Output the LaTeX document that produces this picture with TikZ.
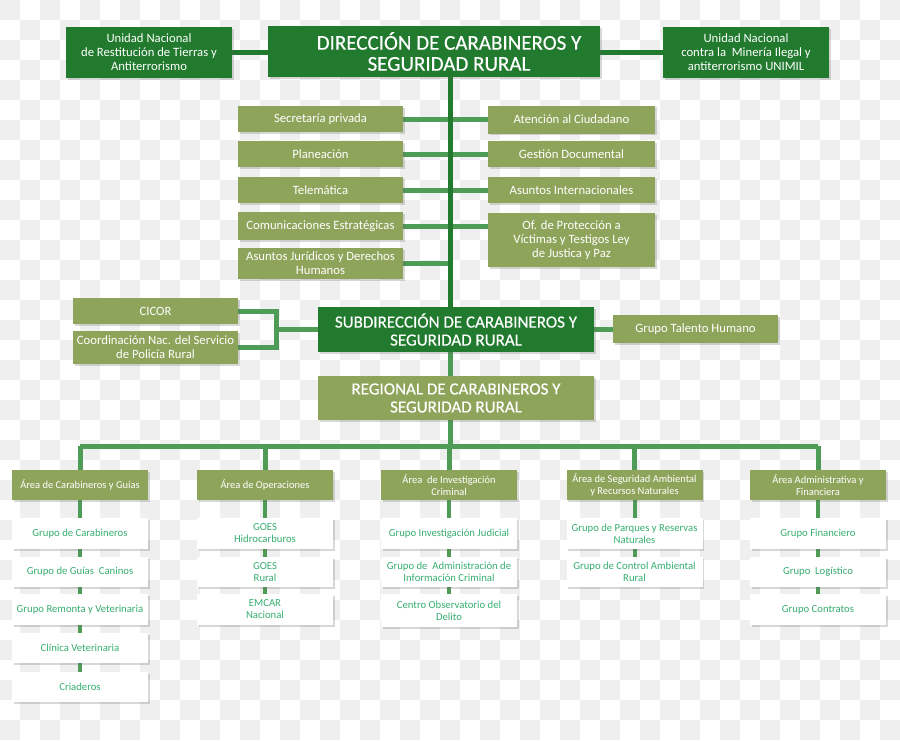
\documentclass[tikz,border=0pt]{standalone}
\usepackage{fontspec}
\setmainfont{Carlito}
\newfontfamily\headfont[FakeBold=0.4]{Carlito}
\usetikzlibrary{shadows}
\definecolor{dkg}{HTML}{217A2E}
\definecolor{olv}{HTML}{8FA45B}
\definecolor{cn}{HTML}{4E9C55}
\definecolor{tg}{HTML}{36AE70}
\definecolor{chk}{HTML}{EFEFEF}
\pgfdeclarelayer{bgg}
\pgfdeclarelayer{bg}
\pgfsetlayers{bgg,bg,main}
\tikzset{
  shd/.style={drop shadow={shadow xshift=1.5pt, shadow yshift=-1.5pt, opacity=0.25, fill=black!60}},
  dbox/.style={fill=dkg, text=white, inner sep=0pt, align=center, shd,
    font=\fontsize{12.7}{14}\selectfont},
  tbox/.style={fill=dkg, text=white, inner sep=0pt, align=center, shd,
    font=\headfont\fontsize{21}{21}\selectfont},
  obox/.style={fill=olv, text=white, inner sep=0pt, align=center, shd,
    font=\fontsize{12.7}{14}\selectfont},
  sbox/.style={fill=olv, text=white, inner sep=0pt, align=center, shd,
    font=\headfont\fontsize{17}{18}\selectfont},
  abox/.style={fill=olv, text=white, inner sep=0pt, align=center, shd,
    minimum width=136pt, minimum height=30pt,
    font=\fontsize{10.5}{12}\selectfont},
  wbox/.style={fill=white, text=tg, inner sep=0pt, align=center, shd,
    minimum width=136pt, font=\fontsize{10.7}{12}\selectfont},
  trunk/.style={draw=dkg, line width=5pt},
  lc/.style={draw=cn, line width=5pt},
  lcs/.style={draw=cn, line width=4pt},
}
\begin{document}
\begin{tikzpicture}[x=1pt,y=-1pt]
\useasboundingbox (0,0) rectangle (900,740);
% checkerboard background
\begin{pgfonlayer}{bgg}
\fill[white] (0,0) rectangle (900,740);
\foreach \i in {0,...,44}{
  \foreach \j in {0,...,36}{
    \pgfmathtruncatemacro{\pp}{mod(\i+\j,2)}
    \ifnum\pp=0
      \fill[chk] (\i*20,\j*20) rectangle ++(20,20);
    \fi
  }
}
\end{pgfonlayer}

% top row
\node[tbox, minimum width=332pt, minimum height=51pt] (dir) at (434,51.5)
  {\hspace*{30pt}DIRECCIÓN DE CARABINEROS Y\\\hspace*{30pt}SEGURIDAD RURAL};
\node[dbox, minimum width=166pt, minimum height=51pt] (ul) at (149,52.5)
  {Unidad Nacional\\de Restitución de Tierras y\\Antiterrorismo};
\node[dbox, minimum width=166pt, minimum height=51pt] (ur) at (746,52.5)
  {Unidad Nacional\\contra la~ Minería Ilegal y\\antiterrorismo UNIMIL};

% staff offices
\node[obox, minimum width=165pt, minimum height=26pt] (sec) at (320.5,119) {Secretaría privada};
\node[obox, minimum width=165pt, minimum height=26pt] (pla) at (320.5,154) {Planeación};
\node[obox, minimum width=165pt, minimum height=26pt] (tel) at (320.5,190) {Telemática};
\node[obox, minimum width=165pt, minimum height=28pt] (com) at (320.5,226) {Comunicaciones Estratégicas};
\node[obox, minimum width=165pt, minimum height=31pt] (jur) at (320.5,263.5) {Asuntos Jurídicos y Derechos\\Humanos};
\node[obox, minimum width=167pt, minimum height=28pt] (ate) at (571.5,119.5) {Atención al Ciudadano};
\node[obox, minimum width=167pt, minimum height=26pt] (ges) at (571.5,154) {Gestión Documental};
\node[obox, minimum width=167pt, minimum height=26pt] (int) at (571.5,190) {Asuntos Internacionales};
\node[obox, minimum width=167pt, minimum height=54pt] (pro) at (571.5,240) {Of. de Protección a\\Víctimas y Testigos Ley\\de Justica y Paz};

% subdirection level
\node[tbox, font=\headfont\fontsize{17}{18}\selectfont, minimum width=276pt, minimum height=45pt] (sub) at (456,329.5)
  {SUBDIRECCIÓN DE CARABINEROS Y\\SEGURIDAD RURAL};
\node[obox, minimum width=165pt, minimum height=26pt] (cic) at (155.5,311) {CICOR};
\node[obox, minimum width=165pt, minimum height=33pt] (coo) at (155.5,347.5) {Coordinación Nac. del Servicio\\de Policía Rural};
\node[obox, minimum width=165pt, minimum height=28pt] (tal) at (695.5,329) {Grupo Talento Humano};
\node[sbox, minimum width=276pt, minimum height=44pt] (reg) at (456,398)
  {REGIONAL DE CARABINEROS Y\\SEGURIDAD RURAL};

% areas
\node[abox] (a1) at (80,485) {Área de Carabineros y Guías};
\node[abox] (a2) at (265,485) {Área de Operaciones};
\node[abox] (a3) at (449,485) {Área~ de Investigación\\Criminal};
\node[abox] (a4) at (634.5,485) {Área de Seguridad Ambiental\\y Recursos Naturales};
\node[abox] (a5) at (818,485) {Área Administrativa y\\Financiera};

% groups
\node[wbox, minimum height=31pt] (g11) at (80,533.5) {Grupo de Carabineros};
\node[wbox, minimum height=30pt] (g12) at (80,572) {Grupo de Guías~ Caninos};
\node[wbox, minimum height=31pt] (g13) at (80,609.5) {Grupo Remonta y Veterinaria};
\node[wbox, minimum height=30pt] (g14) at (80,648) {Clínica Veterinaria};
\node[wbox, minimum height=30pt] (g15) at (80,687) {Criaderos};

\node[wbox, minimum height=31pt] (g21) at (265,533.5) {GOES\\Hidrocarburos};
\node[wbox, minimum height=30pt] (g22) at (265,572) {GOES\\Rural};
\node[wbox, minimum height=31pt] (g23) at (265,609.5) {EMCAR\\Nacional};

\node[wbox, minimum height=31pt] (g31) at (449,533.5) {Grupo Investigación Judicial};
\node[wbox, minimum height=30pt] (g32) at (449,572) {Grupo de~ Administración de\\Información Criminal};
\node[wbox, minimum height=33pt] (g33) at (449,610.5) {Centro Observatorio del\\Delito};

\node[wbox, minimum height=31pt] (g41) at (634.5,533.5) {Grupo de Parques y Reservas\\Naturales};
\node[wbox, minimum height=30pt] (g42) at (634.5,572) {Grupo de Control Ambiental\\Rural};

\node[wbox, minimum height=31pt] (g51) at (818,533.5) {Grupo Financiero};
\node[wbox, minimum height=30pt] (g52) at (818,572) {Grupo~ Logístico};
\node[wbox, minimum height=31pt] (g53) at (818,609.5) {Grupo Contratos};

% connectors
\coordinate (tk) at (450,77);
\coordinate (bar) at (450,446);
\coordinate (brk) at (276,329);
\begin{pgfonlayer}{bg}
\draw[trunk] (ul.east) -- (dir.west |- ul.east);
\draw[trunk] (dir.east |- ur.west) -- (ur.west);
\foreach \n in {sec,pla,tel,com,jur}{
  \draw[lc] (\n.east) -- (\n.east -| tk);
}
\foreach \n in {ate,ges,int}{
  \draw[lc] (\n.west) -- (\n.west -| tk);
}
\draw[lc] (pro.west |- com.east) -- (com.east -| tk);
\draw[trunk] (tk) -- (tk |- sub.north);
\draw[lc] (tk |- sub.south) -- (tk |- reg.north);
\draw[lc] (tk |- reg.south) -- (bar);
\draw[lc] (cic.east) -- (cic.east -| brk) -- (brk |- coo.east) -- (coo.east);
\draw[lc] (brk) -- (sub.west |- brk);
\draw[lc] (sub.east |- tal.west) -- (tal.west);
\draw[lc] (a1.north |- bar) -- (a5.north |- bar);
\foreach \a in {a1,a2,a3,a4,a5}{
  \draw[lc] (\a.north |- bar) -- (\a.north);
}
\draw[lcs] (a1.south) -- (g15.north);
\draw[lcs] (a2.south) -- (g23.north);
\draw[lcs] (a3.south) -- (g33.north);
\draw[lcs] (a4.south) -- (g42.north);
\draw[lcs] (a5.south) -- (g53.north);
\end{pgfonlayer}
\end{tikzpicture}
\end{document}
